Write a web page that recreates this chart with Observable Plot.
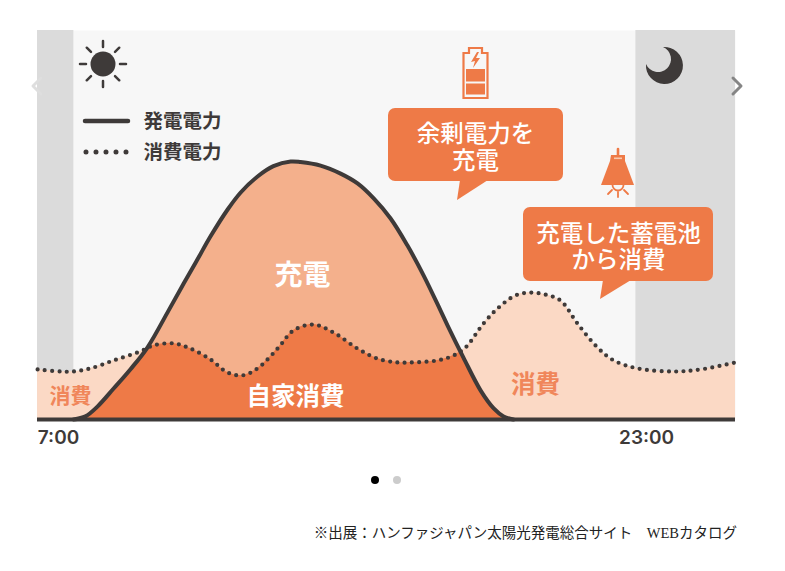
<!DOCTYPE html>
<html lang="ja">
<head>
<meta charset="utf-8">
<script src="https://cdn.jsdelivr.net/npm/d3@7"></script>
<script src="https://cdn.jsdelivr.net/npm/@observablehq/plot@0.6"></script>
<style>
html,body{margin:0;padding:0;background:#fff;width:785px;height:571px;overflow:hidden}
#cap{position:absolute;left:0;top:523px;width:737px;text-align:right;font:14.5px/20px "Liberation Serif","Noto Sans CJK JP",serif;color:#222;white-space:pre}
</style>
</head>
<body>
<div id="chart"></div>
<div id="cap">※出展：ハンファジャパン太陽光発電総合サイト　WEBカタログ</div>
<script>
const genHours = [7,7.34,7.68,8.14,8.62,9.10,9.70,10.13,10.52,10.89,11.38,11.75,12.23,12.68,13.17,13.45,14.02,14.59,15.07,15.53,16.01,16.49,16.95,17.43,17.63,18.08,18.57,18.94,19.22,19.5,21,23,25.81];
const genValues = [0,1.2,5,12,19.5,27.9,42.2,52.7,62,70.9,81.4,88,94.2,98.2,100,99.8,98.4,95.3,91.5,85.7,77.9,67.4,55.8,42.2,36.4,24,11.2,4.3,1.2,0,0,0,0];
const useHours = [5.98,6.63,7,7.48,8.14,8.9,9.27,9.84,10.32,10.89,11.38,11.8,12.23,12.8,13.25,13.82,14.39,15.07,15.64,16.21,16.58,17.34,17.8,18.14,18.65,19.08,19.56,19.99,20.41,20.84,21.32,21.89,22.35,23.03,24.05,24.82,25.81];
const useValues = [19.4,18.6,18.6,19.8,22.9,26.4,28.7,29.5,27.5,23.3,18.2,17.1,19.8,27.5,34.5,36.8,33.7,27.5,23.6,22.1,22.1,22.9,24.8,27.9,37.2,43.4,48.1,49.2,48.4,46.1,37.2,27.9,22.9,19.8,18.6,19.4,22.1];
const nightBands = [[5.977,7.01],[22.98,25.81]];
const tickHours = [7,23];
const tickLabels = ["7:00","23:00"];

const gen = genHours.map((h,i)=>({h,v:genValues[i]}));
const use = useHours.map((h,i)=>({h,v:useValues[i]}));
const INK="#3e3a39", ORANGE="#ee7a47", MID="#f4b08c", LIGHT="#fbd9c5", SOFT="#f0865a";
const JP='"Noto Sans CJK JP","Noto Sans",sans-serif';

const label=(t,px,py,o={})=>Plot.text([t],{text:d=>d,frameAnchor:"top-left",dx:px-37,dy:py-30,fontFamily:JP,lineAnchor:"middle",textAnchor:"middle",...o});
const tag=k=>(i,s,v,d,c,next)=>{const g=next(i,s,v,d,c);g.setAttribute("data-k",k);return g;};

function deco(){
  const s=d3.create("svg:g");
  const fillP=(d,f)=>s.append("path").attr("d",d).attr("fill",f);
  const strokeP=(d,c,w)=>s.append("path").attr("d",d).attr("fill","none").attr("stroke",c).attr("stroke-width",w).attr("stroke-linecap","round").attr("stroke-linejoin","round");
  // chevrons
  strokeP("M41,78 L33,86 L41,94","#dedede",3);
  strokeP("M733,78 L741,86 L733,94","#858585",3);
  // sun
  s.append("circle").attr("cx",103).attr("cy",64).attr("r",12.5).attr("fill",INK);
  for(let a=0;a<8;a++){const t=a*Math.PI/4,c=Math.cos(t),n=Math.sin(t);
    strokeP(`M${103+c*17},${64+n*17} L${103+c*23},${64+n*23}`,INK,2.5);}
  // moon
  fillP("M663,47 A18.5,18.5 0 1 1 646,64 A13,13 0 1 0 663,47 Z",INK);
  // legend
  strokeP("M85,121 L128,121",INK,4.5);
  strokeP("M86,152 L127,152",INK,5).attr("stroke-dasharray","0 10");
  // battery
  s.append("path").attr("d","M463.5,53 H469 V48 H482 V53 H487.5 V98 H463.5 Z").attr("fill","none").attr("stroke",ORANGE).attr("stroke-width",2.2);
  s.append("rect").attr("x",466).attr("y",69).attr("width",19).attr("height",12.5).attr("fill",ORANGE);
  s.append("rect").attr("x",466).attr("y",83.5).attr("width",19).attr("height",11).attr("fill",ORANGE);
  fillP("M477,52 L471,62 L475,61 L473,68 L480,58 L476,58 L479,52 Z",ORANGE);
  // lamp
  strokeP("M618,149 V156",ORANGE,2.6);
  fillP("M611,155 H625 V161 L634,185 H601 L610,161 Z",ORANGE);
  s.append("rect").attr("x",614).attr("y",157.5).attr("width",8).attr("height",1.6).attr("fill","#f9c8ad");
  strokeP("M612.5,185 A5.5,5.5 0 0 0 623.5,185",ORANGE,1.8);
  strokeP("M618,192 V197",ORANGE,1.8);
  strokeP("M612,190 L608,194",ORANGE,1.8);
  strokeP("M624,190 L628,194",ORANGE,1.8);
  // callouts
  s.append("rect").attr("x",388).attr("y",108).attr("width",175).attr("height",73).attr("rx",7).attr("fill",ORANGE);
  fillP("M460,180 L457,200 L488,180 Z",ORANGE);
  s.append("rect").attr("x",523).attr("y",207).attr("width",190).attr("height",74).attr("rx",7).attr("fill",ORANGE);
  fillP("M603,280 L600,299 L631,280 Z",ORANGE);
  // pager
  s.append("circle").attr("cx",375).attr("cy",480).attr("r",4).attr("fill","#000");
  s.append("circle").attr("cx",397).attr("cy",480).attr("r",4).attr("fill","#ccc");
  return s.node();
}

const plot = Plot.plot({
  width:785,height:510,
  marginLeft:37,marginRight:50,marginTop:30,marginBottom:91,
  x:{domain:[5.977,25.81],axis:null},
  y:{domain:[0,150.78],axis:null},
  style:{background:"transparent"},
  marks:[
    Plot.frame({fill:"#f7f7f7",stroke:null}),
    Plot.rectY(nightBands,{x1:d=>d[0],x2:d=>d[1],y1:0,y2:150.78,fill:"#dbdbdb"}),
    Plot.areaY(use,{x:"h",y:"v",fill:LIGHT,curve:"catmull-rom"}),
    Plot.areaY(gen,{x:"h",y:"v",fill:MID,curve:"catmull-rom",render:tag("gen-area")}),
    Plot.areaY(use,{x:"h",y:"v",fill:ORANGE,curve:"catmull-rom",render:tag("self-area")}),
    Plot.lineY(use,{x:"h",y:"v",stroke:INK,strokeWidth:4.2,strokeDasharray:"0 7.3",strokeLinecap:"round",curve:"catmull-rom"}),
    Plot.ruleY([0],{stroke:INK,strokeWidth:4}),
    Plot.lineY(gen.filter(d=>d.h<=19.5),{x:"h",y:"v",stroke:INK,strokeWidth:4,curve:"catmull-rom"}),
    deco,
    Plot.text([tickLabels[0]],{x:()=>tickHours[0],y:0,text:d=>d,dx:-15,dy:18,fontFamily:"Inter,Lato,sans-serif",fontWeight:600,fontSize:19,fill:INK}),
    Plot.text([tickLabels[1]],{x:()=>tickHours[1],y:0,text:d=>d,dx:10,dy:18,fontFamily:"Inter,Lato,sans-serif",fontWeight:600,fontSize:19,fill:INK}),
    label("発電電力",182,121,{fontSize:19.5,fontWeight:700,fill:INK}),
    label("消費電力",182,152,{fontSize:19.5,fontWeight:700,fill:INK}),
    label("余剰電力を\n充電",475,146.5,{fontSize:23.5,fontWeight:500,lineHeight:1.15,fill:"#fff"}),
    label("充電した蓄電池\nから消費",618,246,{fontSize:23.5,fontWeight:500,lineHeight:1.12,fill:"#fff"}),
    label("充電",302,276,{fontSize:28,fontWeight:700,fill:"#fff"}),
    label("自家消費",295,397,{fontSize:24.5,fontWeight:700,fill:"#fff"}),
    label("消費",70,396,{fontSize:21,fontWeight:700,fill:SOFT}),
    label("消費",535,385,{fontSize:24.5,fontWeight:700,fill:SOFT})
  ]
});

// self-consumption is the consumption area clipped to the generation area
const genPath = plot.querySelector('[data-k="gen-area"] path');
const selfPath = plot.querySelector('[data-k="self-area"] path');
const ns="http://www.w3.org/2000/svg";
const defs=document.createElementNS(ns,"defs"), clip=document.createElementNS(ns,"clipPath");
clip.setAttribute("id","selfclip");
clip.appendChild(genPath.cloneNode());
defs.appendChild(clip); plot.insertBefore(defs,plot.firstChild);
selfPath.setAttribute("clip-path","url(#selfclip)");
document.getElementById("chart").appendChild(plot);
</script>
</body>
</html>
